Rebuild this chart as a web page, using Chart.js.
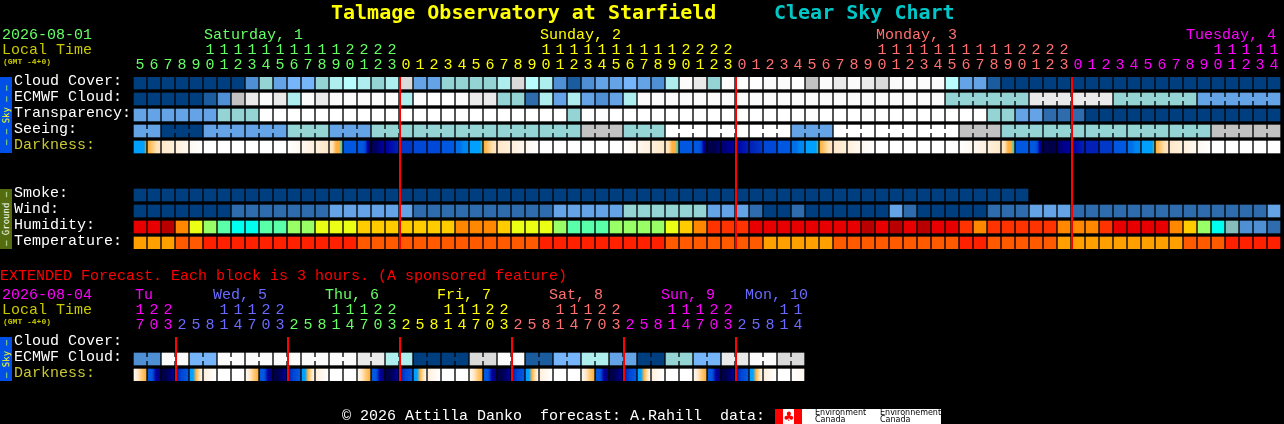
<!DOCTYPE html>
<html>
<head>
<meta charset="utf-8">
<title>Clear Sky Chart</title>
<script src="https://cdn.jsdelivr.net/npm/chart.js@4"></script>
<style>
  html, body { margin: 0; background: #000; overflow: hidden; }
  #page { position: relative; width: 1284px; height: 424px; background: #000; overflow: hidden; }
  canvas { position: absolute; left: 0; top: 0; }
  .t { position: absolute; font: 15px/15px "Liberation Mono", monospace; white-space: pre; }
  .small { font-size: 8px; line-height: 8px; font-weight: bold; color: #c8c800; }
  .title { font: bold 20px/24px "DejaVu Sans Mono", monospace; }
  .side { position: absolute; left: 0; width: 12px; display: flex; align-items: center; justify-content: center;
          writing-mode: vertical-rl; transform: rotate(180deg); font: 9px/12px "DejaVu Sans Mono", monospace; white-space: pre; }
  #logo { position: absolute; left: 775px; top: 409px; width: 166px; height: 15px; background: #fff; overflow: hidden; }
  #logo div { position: absolute; }
  #logo .w { color: #000; font: 8px/7px "DejaVu Sans", sans-serif; white-space: pre; }
</style>
</head>
<body>
<div id="page">
  <canvas id="mainChart" width="1284" height="424"></canvas>
  <canvas id="extChart" width="1284" height="424"></canvas>

  <div class="t title" style="left:331px;top:0px;color:#ffff00">Talmage Observatory at Starfield</div>
  <div class="t title" style="left:774px;top:0px;color:#00c8c8">Clear Sky Chart</div>

  <div class="t" style="left:2px;top:28px;color:#66ff66">2026-08-01</div>
  <div class="t" style="left:2px;top:43px;color:#c8c800">Local Time</div>
  <div class="t small" style="left:3px;top:58px">(GMT -4+0)</div>
  <div class="t" style="left:204px;top:28px;color:#66ff66">Saturday, 1</div>
  <div class="t" style="left:540px;top:28px;color:#ffff00">Sunday, 2</div>
  <div class="t" style="left:876px;top:28px;color:#ff7070">Monday, 3</div>
  <div class="t" style="left:1186px;top:28px;color:#ff00ff">Tuesday, 4</div>

  <div class="side" style="top:77px;height:76px;background:#0050e8;color:#ffff00">– – Sky – –</div>
  <div class="side" style="top:189px;height:60px;background:#556b10;color:#ffffff">– Ground –</div>

  <div class="t" style="left:0;top:269px;color:#ff0000">EXTENDED Forecast. Each block is 3 hours. (A sponsored feature)</div>
  <div class="t" style="left:2px;top:288px;color:#ff00ff">2026-08-04</div>
  <div class="t" style="left:2px;top:303px;color:#c8c800">Local Time</div>
  <div class="t small" style="left:3px;top:318px">(GMT -4+0)</div>
  <div class="t" style="left:135px;top:288px;color:#ff00ff">Tu</div>
  <div class="t" style="left:213px;top:288px;color:#6a6aff">Wed, 5</div>
  <div class="t" style="left:325px;top:288px;color:#66ff66">Thu, 6</div>
  <div class="t" style="left:437px;top:288px;color:#ffff00">Fri, 7</div>
  <div class="t" style="left:549px;top:288px;color:#ff7070">Sat, 8</div>
  <div class="t" style="left:661px;top:288px;color:#ff00ff">Sun, 9</div>
  <div class="t" style="left:745px;top:288px;color:#6a6aff">Mon, 10</div>
  <div class="side" style="top:337px;height:44px;background:#0050e8;color:#ffff00">– Sky –</div>

  <div class="t" style="left:342px;top:409px;color:#ffffff">© 2026 Attilla Danko  forecast: A.Rahill  data:</div>
  <div id="logo">
    <div style="left:0;top:0;width:8px;height:15px;background:#ff0000"></div>
    <div style="left:19px;top:0;width:8px;height:15px;background:#ff0000"></div>
    <div style="left:8px;top:1px;width:11px;text-align:center;color:#ff0000;font:13px/13px 'DejaVu Sans'">♣</div>
    <div class="w" style="left:40px;top:0">Environment
Canada</div>
    <div class="w" style="left:105px;top:0">Environnement
Canada</div>
  </div>
</div>

<script>
// hours along the top of each grid
const mainHours = [5,6,7,8,9,10,11,12,13,14,15,16,17,18,19,20,21,22,23,
  0,1,2,3,4,5,6,7,8,9,10,11,12,13,14,15,16,17,18,19,20,21,22,23,
  0,1,2,3,4,5,6,7,8,9,10,11,12,13,14,15,16,17,18,19,20,21,22,23,
  0,1,2,3,4,5,6,7,8,9,10,11,12,13,14];
const extHours = [17,20,23,
  2,5,8,11,14,17,20,23, 2,5,8,11,14,17,20,23, 2,5,8,11,14,17,20,23,
  2,5,8,11,14,17,20,23, 2,5,8,11,14,17,20,23, 2,5,8,11,14];

// index of the first block of each new day, and the colour of each day
const mainMidnights = [19, 43, 67];
const extMidnights = [3, 11, 19, 27, 35, 43];
const mainDayColors = ['#66ff66', '#ffff00', '#ff7070', '#ff00ff'];
const extDayColors = ['#ff00ff', '#6a6aff', '#66ff66', '#ffff00', '#ff7070', '#ff00ff', '#6a6aff'];

// sky levels, 0 = clear/dark blue up to 13 = white
const cloudCover = [0,0,0,0,0,0,0,0,3,6,4,5,5,6,7,8,7,6,7,10,4,
  4,6,6,6,6,7,10,8,7,3,1,3,4,4,5,4,3,7,12,11,6,12,13,13,12,12,13,9,12,11,12,
  11,10,12,12,12,12,8,4,4,1,0,0,0,0,0,0,0,0,0,0,0,0,0,0,0,0,0,0,0,0];
const ecmwfCloud = [0,0,0,0,0,1,3,9,11,12,11,7,12,11,12,12,12,12,12,7,12,
  13,13,12,11,11,6,6,2,7,4,7,4,3,4,7,12,12,12,12,12,12,12,12,12,12,12,12,12,12,12,12,
  12,12,12,12,12,12,6,6,6,6,6,6,11,11,11,11,11,11,6,6,6,6,6,6,4,4,4,4,4,4];
const transparency = [4,4,4,4,4,4,6,6,6,13,13,13,13,13,13,13,13,13,13,13,13,
  13,13,13,13,13,13,13,13,13,13,6,13,13,13,13,13,13,13,13,13,13,13,13,13,13,13,13,13,13,13,13,
  13,13,13,13,13,13,13,13,13,6,6,4,4,2,2,2,0,0,0,0,0,0,0,0,0,0,0,0,0,0];
const seeing = [4,4, 0,0,0, 4,4,4, 4,4,4, 6,6,6, 4,4,4, 6,6,6, 6,6,6, 6,6,6, 6,6,6, 6,6,6,
  9,9,9, 6,6,6, 13,13,13, 13,13,13, 13,13,13, 4,4,4, 13,13,13, 13,13,13, 13,13,13, 9,9,9,
  6,6,6, 6,6,6, 6,6,6, 6,6,6, 6,6,6, 9,9,9, 9,9];
const smoke = [0,0,0,0,0,0,0,0,0,0,0,0,0,0,0,0,0,0,0,0,0,0,0,0,0,0,0,0,0,0,0,0,
  0,0,0,0,0,0,0,0,0,0,0,0,0,0,0,0,0,0,0,0,0,0,0,0,0,0,0,0,0,0,0,0];
const wind = [0,0,0,0,0,0,0,2,2,2,2,2,2,2,4,4,4,4,4,4,2,
  2,2,2,2,2,2,2,2,2,4,4,4,4,4,6,6,6,6,6,6,4,4,4,2,0,0,2,0,0,0,0,
  0,0,4,2,0,0,0,0,0,2,2,2,4,4,4,2,2,2,2,2,2,2,2,2,2,2,2,2,2,4];
const humidity = [10,10,11,8,6,5,4,3,3,4,4,5,5,6,6,6,7,7,7,7,7,
  7,7,8,8,8,7,6,6,6,5,4,4,4,5,5,5,5,6,7,8,9,9,9,10,10,10,10,10,10,10,10,
  11,10,11,10,11,10,10,9,8,9,9,9,9,9,8,8,8,9,10,10,10,10,8,7,5,3,2,1,1,0];
const temperature = [0,0,0,1,1,2,2,2,2,2,2,2,2,2,2,2,1,1,1,1,1,
  1,1,1,1,1,1,1,1,2,2,2,2,2,2,2,2,2,1,1,1,1,1,1,1,0,0,0,0,0,1,1,
  1,1,1,1,1,1,1,2,2,1,1,1,1,1,0,0,0,0,0,0,0,0,0,1,1,1,2,2,2,2];

// darkness: letters are levels of darkColors, read left to right across a block
const darkness = ['jjjjjjk','nopq','qr','rs','st','t','t','t','t','t','t','ts','sr','rq','qpnnl','g','gggfcb','ac','cd','e','f','f','g','hhii',
  'jjjjjjm','nopq','qr','rs','st','t','t','t','t','t','t','ts','sr','rq','qpnnl','g','gggfcb','aab','bc','cd','de','f','g','hhii',
  'jjjjjjm','nopq','qr','rs','st','t','t','t','t','t','t','ts','sr','rq','qpnnl','g','gggfcb','aa','bc','cd','dd','e','g','hhii',
  'jjjjjjm','nopq','qr','rs','st','t','t','t','t','t'];

const extEcmwf = [3,3,12,12,5,5,12,12,12,12,12,12,12,12,12,12,11,11,7,7,0,0,0,0,
  10,10,12,12,1,1,5,5,7,7,4,4,0,0,6,6,5,5,11,11,12,12,10,10];
const extDarkness = ['sqon','ggcb','aabc','dfg','jjnps','rt','t','t',
  'sqon','ggcb','aabc','dfg','jjnps','rt','t','t',
  'sqon','ggcb','aabc','dfg','jjnps','rt','t','t',
  'sqon','ggcb','aabc','dfg','jjnps','rt','t','t',
  'sqon','ggcb','aabc','dfg','jjnps','rt','t','t',
  'sqon','ggcb','aabc','dfg','jjnps','rt','t','ts'];

// lengths of the runs of blocks that are joined together
const seeingRuns = [2,3,3,3,3,3,3,3,3,3,3,3,3,3,3,3,3,3,3,3,3,3,3,3,3,3,3,2];
const ecmwfRuns = [1,1,1,1,1,1,1,1,1,1,1,1,1,1,1,1,1,1,1,1,1,1,1,1,1,1,1,1,1,1,1,1,1,1,1,1,1,1,1,1,1,1,1,1,1,1,1,1,1,1,1,1,1,1,1,1,1,1,6,6,6,6];
const extRuns = [2,2,2,2,2,2,2,2,2,2,2,2,2,2,2,2,2,2,2,2,2,2,2,2];

const skyColors = ['#003f7f','#1a5c9e','#2e6cae','#4f8fd3','#64a3e6','#77b5fa','#94d4d4','#aeeeee','#b8fefe','#c2c2c2','#dadada','#eaeaea','#fbfbfb','#ffffff'];
const humidityColors = ['#2e6cae','#4f8fd3','#85bdbd','#00ffee','#5affaa','#99ff66','#eaff14','#ffcc00','#ff8800','#ff3300','#e80000','#b80000'];
const temperatureColors = ['#ffa000','#ff5a00','#ff2000'];
const darkColors = {a:'#00004a',b:'#000070',c:'#0000a0',d:'#0020b8',e:'#0038c8',f:'#0048d8',g:'#0058e0',h:'#0070e8',i:'#0088f0',j:'#00a0ff',
  k:'#c0a040',l:'#20d0e0',m:'#70b070',n:'#ffb040',o:'#ffc870',p:'#ffe0b0',q:'#ffe8c8',r:'#fff0dc',s:'#fff8f0',t:'#ffffff'};

const FONT = '"Liberation Mono", monospace';
const ROW_FILL = 0.75; // a block takes 12px of each 16px row
const BLOCK = 14;      // px per block along x

function digits(h) {
    return h < 10 ? [' ', String(h)] : [String(h).charAt(0), String(h).charAt(1)];
}

function dayColor(index, midnights, colors) {
    let day = 0;
    midnights.forEach(m => { if (index >= m) day++; });
    return colors[day];
}

function darkGradient(ctx, stops) {
    const chart = ctx.chart;
    const mid = chart.scales.x.getPixelForValue(ctx.dataIndex);
    if (!isFinite(mid)) return '#000';
    const half = 6;
    const g = chart.ctx.createLinearGradient(mid - half, 0, mid + half, 0);
    const list = stops.split('');
    if (list.length === 1) list.push(list[0]);
    list.forEach((s, i) => g.addColorStop(i / (list.length - 1), darkColors[s]));
    return g;
}

function rowDataset(row) {
    const ds = {
        data: row.values.map(() => [row.at, row.at + ROW_FILL]),
        grouped: false,
        barThickness: 12,
        borderWidth: 0,
        runs: row.runs
    };
    if (row.stops) {
        ds.backgroundColor = ctx => darkGradient(ctx, row.stops[ctx.dataIndex]);
    } else {
        ds.backgroundColor = row.values.map(v => row.palette[v]);
    }
    return ds;
}

// midnight lines and the small joins between blocks of one forecast run
const overlayPlugin = {
    id: 'overlay',
    afterDatasetsDraw(chart, args, opts) {
        const c = chart.ctx, x = chart.scales.x, y = chart.scales.y;
        const area = chart.chartArea;
        chart.data.datasets.forEach(ds => {
            if (!ds.runs) return;
            const top = y.getPixelForValue(ds.data[0][0]);
            let i = 0;
            ds.runs.forEach(len => {
                for (let k = 0; k < len - 1; k++) {
                    const colors = ds.backgroundColor;
                    c.fillStyle = colors[i + k];
                    c.fillRect(x.getPixelForValue(i + k) + 6, top + 4, 2, 4);
                }
                i += len;
            });
        });
        c.fillStyle = '#ff0000';
        opts.midnights.forEach(m => {
            c.fillRect(x.getPixelForValue(m) - 7, area.top, 2, area.bottom - area.top);
        });
    }
};

function makeChart(id, hours, rows, midnights, dayColors, top, bottom, lastRow) {
    const rowTicks = rows.filter(r => r.label);
    const right = 1284 - (133 + BLOCK * hours.length);
    return new Chart(document.getElementById(id), {
        type: 'bar',
        data: {
            labels: hours.map(digits),
            datasets: rows.map(rowDataset)
        },
        options: {
            responsive: false,
            animation: false,
            devicePixelRatio: 1,
            layout: { padding: { left: 14, right: right, top: 0, bottom: 424 - bottom } },
            plugins: {
                legend: { display: false },
                tooltip: { enabled: false },
                overlay: { midnights: midnights }
            },
            scales: {
                x: {
                    position: 'top',
                    offset: true,
                    grid: { display: false, drawTicks: false },
                    border: { display: false },
                    afterFit(s) { s.height = top; },
                    ticks: {
                        autoSkip: false,
                        maxRotation: 0,
                        padding: 4,
                        font: { family: FONT, size: 15, lineHeight: 1 },
                        color: ctx => dayColor(ctx.index, midnights, dayColors)
                    }
                },
                y: {
                    reverse: true,
                    min: 0,
                    max: lastRow + ROW_FILL,
                    grid: { display: false, drawTicks: false },
                    border: { display: false },
                    afterFit(s) { s.width = 119; },
                    afterBuildTicks(s) {
                        s.ticks = rowTicks.map(r => ({ value: r.at + 0.25 }));
                    },
                    ticks: {
                        crossAlign: 'far',
                        autoSkip: false,
                        font: { family: FONT, size: 15, lineHeight: 1 },
                        color: ctx => rowTicks[ctx.index].color,
                        callback: (v, i) => rowTicks[i].label
                    }
                }
            }
        },
        plugins: [overlayPlugin]
    });
}

makeChart('mainChart', mainHours, [
    { label: 'Cloud Cover:', at: 0, values: cloudCover, palette: skyColors, color: '#ffffff' },
    { label: 'ECMWF Cloud:', at: 1, values: ecmwfCloud, palette: skyColors, color: '#ffffff', runs: ecmwfRuns },
    { label: 'Transparency:', at: 2, values: transparency, palette: skyColors, color: '#ffffff' },
    { label: 'Seeing:', at: 3, values: seeing, palette: skyColors, color: '#ffffff', runs: seeingRuns },
    { label: 'Darkness:', at: 4, values: darkness, stops: darkness, color: '#c8c832' },
    { label: 'Smoke:', at: 7, values: smoke, palette: skyColors, color: '#ffffff' },
    { label: 'Wind:', at: 8, values: wind, palette: skyColors, color: '#ffffff' },
    { label: 'Humidity:', at: 9, values: humidity, palette: humidityColors, color: '#ffffff' },
    { label: 'Temperature:', at: 10, values: temperature, palette: temperatureColors, color: '#ffffff' }
], mainMidnights, mainDayColors, 77, 249, 10);

makeChart('extChart', extHours, [
    { label: 'Cloud Cover:', at: 0, values: [], palette: skyColors, color: '#ffffff' },
    { label: 'ECMWF Cloud:', at: 1, values: extEcmwf, palette: skyColors, color: '#ffffff', runs: extRuns },
    { label: 'Darkness:', at: 2, values: extDarkness, stops: extDarkness, color: '#c8c832' }
], extMidnights, extDayColors, 337, 381, 2);
</script>
</body>
</html>
